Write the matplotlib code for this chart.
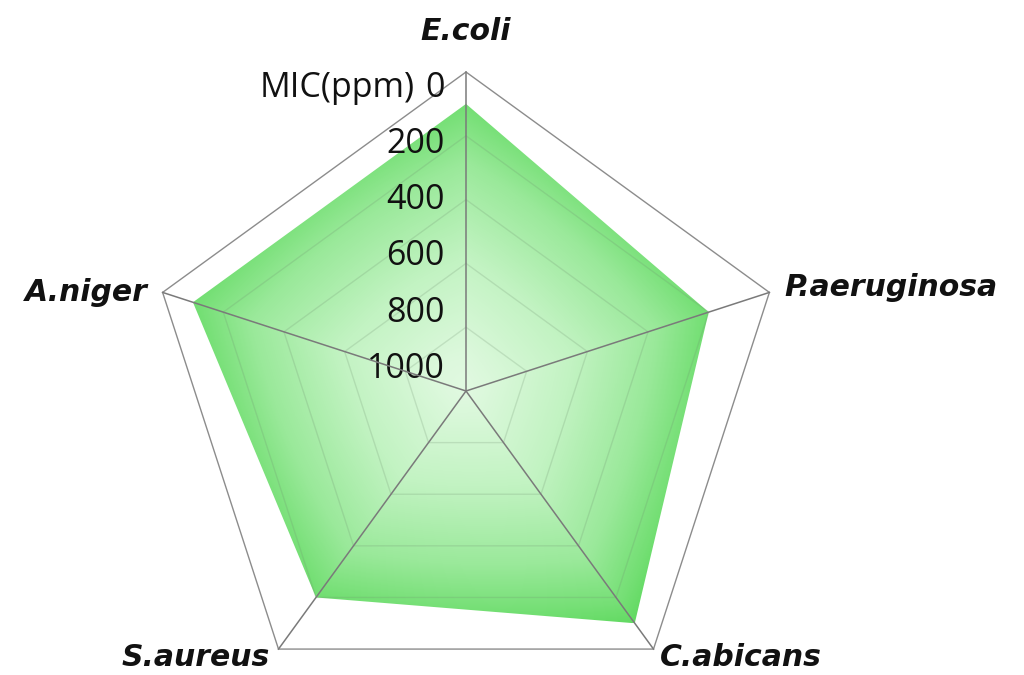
import numpy as np
import matplotlib
matplotlib.use("Agg")
import matplotlib.pyplot as plt
from matplotlib.patches import Polygon
from matplotlib.colors import LinearSegmentedColormap

# MIC values (ppm) per organism, clockwise from the top
organisms = ["E.coli", "P.aeruginosa", "C.abicans", "S.aureus", "A.niger"]
mic_ppm = [100, 200, 100, 200, 100]
ticks = [0, 200, 400, 600, 800, 1000]
axis_max = 1000

W, H, DPI = 1024, 675, 100
cx_px, cy_px, R_px = 466, 391, 319   # chart centre and outer radius in pixels
scale = R_px / axis_max

fig = plt.figure(figsize=(W / DPI, H / DPI), dpi=DPI)
ax = fig.add_axes([0, 0, 1, 1])
ax.set_xlim(-cx_px / scale, (W - cx_px) / scale)
ax.set_ylim(-(H - cy_px) / scale, cy_px / scale)
ax.set_aspect("equal")
ax.axis("off")

n = len(organisms)
angles = np.deg2rad(90 - 360 / n * np.arange(n))


def to_xy(vals):
    # axis is reversed: 0 ppm sits on the outer ring, 1000 at the centre
    r = axis_max - np.asarray(vals, dtype=float)
    return np.column_stack([r * np.cos(angles), r * np.sin(angles)])


# gradient fill of the data polygon
pts = to_xy(mic_ppm)
poly = Polygon(pts, closed=True, facecolor="none", edgecolor="none", zorder=2)
ax.add_patch(poly)
x0, y0 = pts.min(axis=0)
x1, y1 = pts.max(axis=0)
gx, gy = np.meshgrid(np.linspace(x0, x1, 500), np.linspace(y0, y1, 500))

# path-style gradient: 0 at the centre, 1 on the polygon edge
gauge = np.zeros_like(gx)
for i in range(n):
    a, b = pts[i], pts[(i + 1) % n]
    nx, ny = b[1] - a[1], a[0] - b[0]
    d = nx * a[0] + ny * a[1]
    gauge = np.maximum(gauge, (nx * gx + ny * gy) / d)
mx, my = (x0 + x1) / 2, (y0 + y1) / 2
dist = np.hypot(gx - mx, gy - my)
dist = dist / dist.max()
shade = np.clip(0.6 * gauge + 0.4 * dist, 0, 1)

cmap = LinearSegmentedColormap.from_list(
    "mic", [(0.0, "#e4fae4"), (0.4, "#c2f3c2"), (0.7, "#9ae99a"),
            (0.88, "#74df74"), (0.95, "#62da62"), (1.0, "#38cc38")])
img = ax.imshow(shade, extent=(x0, x1, y0, y1), origin="lower", cmap=cmap,
                vmin=0, vmax=1, interpolation="bilinear", zorder=2)
img.set_clip_path(poly)

# grid rings
for t in ticks:
    ring = to_xy([t] * n)
    if t == 0:
        ax.add_patch(Polygon(ring, closed=True, fill=False, edgecolor="#8c8c8c",
                             linewidth=1.0, zorder=1))
    elif t < axis_max:
        ax.add_patch(Polygon(ring, closed=True, fill=False, edgecolor="#6f8f6f",
                             linewidth=1.0, alpha=0.22, zorder=3))

# spokes
outer = to_xy([0] * n)
for x, y in outer:
    ax.plot([0, x], [0, y], color="#7a7a7a", linewidth=1.1, zorder=4)

# value axis labels
tick_font = dict(family="Open Sans", fontsize=24.5, color="#111111")
for t in ticks:
    r_lab = axis_max - 50 - 0.88 * t
    ax.annotate(str(t), xy=(0, r_lab), xytext=(-21, 0), textcoords="offset pixels",
                ha="right", va="center", **tick_font)
ax.annotate("MIC(ppm)", xy=(0, axis_max - 50), xytext=(-51, 0), textcoords="offset pixels",
            ha="right", va="center", **tick_font)

# organism labels
cat_font = dict(family="DejaVu Sans", fontsize=21.5, fontweight="bold",
                fontstyle="oblique", color="#111111")
offsets = {
    "E.coli": ((0, 40), "center"),
    "P.aeruginosa": ((15, 5), "left"),
    "C.abicans": ((6, -8), "left"),
    "S.aureus": ((-9, -8), "right"),
    "A.niger": ((-15, 0), "right"),
}
for name, (x, y) in zip(organisms, outer):
    off, ha = offsets[name]
    ax.annotate(name, xy=(x, y), xytext=off, textcoords="offset pixels",
                ha=ha, va="center", **cat_font)

fig.savefig("out.png", dpi=DPI)
